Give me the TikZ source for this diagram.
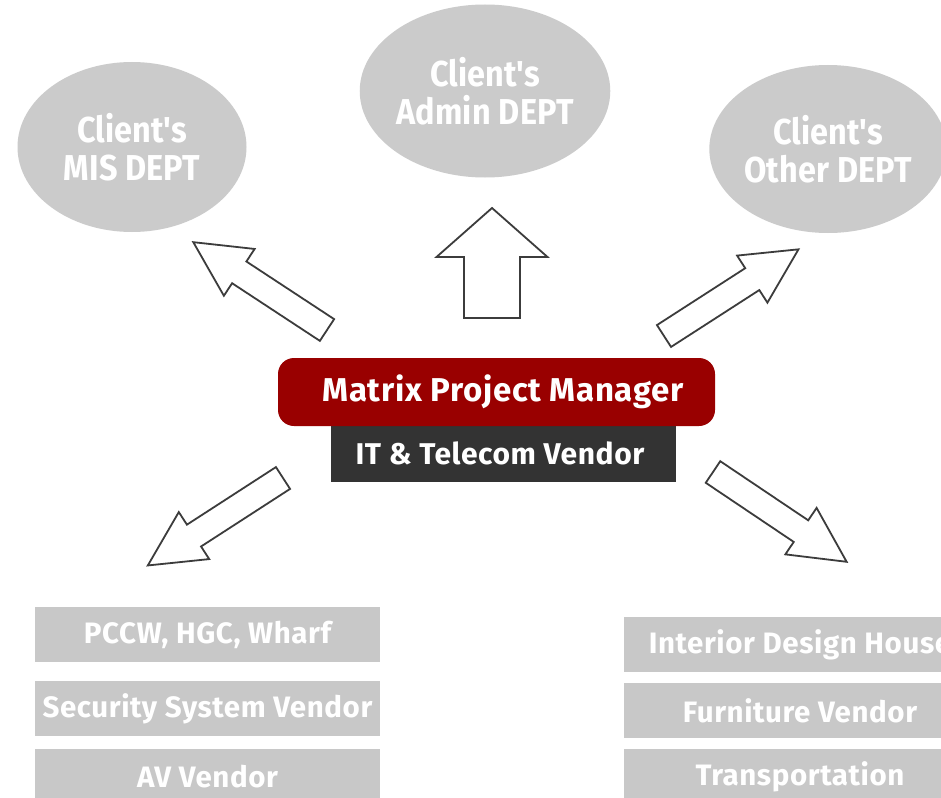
\documentclass[tikz,border=0pt]{standalone}
\usepackage{fontspec}
\newfontfamily\cf[FakeStretch=0.9,LetterSpace=0.5]{Fira Sans}
\newfontfamily\cfw[LetterSpace=2]{Fira Sans}
\usetikzlibrary{shapes.geometric}
\definecolor{ellgray}{HTML}{CBCBCB}
\definecolor{boxgray}{HTML}{C8C8C8}
\definecolor{mred}{HTML}{990000}
\definecolor{dgray}{HTML}{333333}
\definecolor{aline}{HTML}{3C3C3C}
\newcommand\blockarrow[7]{%
  \begin{scope}[shift={(#1,#2)},rotate=#3]
    \draw[barrow] (0,#5) -- (#4-#7,#5) -- (#4-#7,#6) -- (#4,0) -- (#4-#7,-#6) -- (#4-#7,-#5) -- (0,-#5) -- cycle;
  \end{scope}}
\tikzset{
  dept/.style={ellipse, fill=ellgray, text=white, inner sep=0pt, align=center,
    font=\cf\bfseries\fontsize{36}{38}\selectfont},
  vbox/.style={rectangle, fill=boxgray, text=white, inner sep=0pt,
    minimum height=55pt, font=\cfw\bfseries\fontsize{29.5}{32}\selectfont},
  barrow/.style={draw=aline, fill=white, line width=1.8pt, line join=miter},
  centretext/.style={text=white, inner sep=0pt}
}
\begin{document}
\begin{tikzpicture}[x=1pt,y=-1pt]
\useasboundingbox (0,0) rectangle (941,797);
\clip (0,0) rectangle (941,797);
\fill[white] (0,0) rectangle (941,797);

% departments
\node[dept, minimum width=229pt, minimum height=170pt] (mis) at (132,147) {Client's\\MIS DEPT};
\node[dept, minimum width=230pt, minimum height=173pt] (admin) at (485,91) {Client's\\Admin DEPT};
\node[dept, minimum width=226pt, minimum height=168pt] (other) at (828,149) {Client's\\Other DEPT};

% block arrows: tail x, tail y, angle, length, shaft half width, head half width, head length
\blockarrow{492}{318}{90}{110}{28}{55.5}{49}
\blockarrow{327}{330}{146.7}{160}{13}{28}{55}
\blockarrow{664}{336}{32.8}{160}{13}{28}{55}
\blockarrow{283}{478}{212.9}{161}{13}{28}{55}
\blockarrow{713}{472}{-33.9}{161}{13}{28}{55}

% centre
\node[fill=dgray, minimum width=345pt, minimum height=56pt, inner sep=0pt] (itbox) at (503.5,454) {};
\node[centretext, font=\cfw\bfseries\fontsize{30}{32}\selectfont] (it) at (500,453) {IT \& Telecom Vendor};
\node[fill=mred, rounded corners=16pt, minimum width=437pt, minimum height=68pt, inner sep=0pt] (pmbox) at (496.5,392) {};
\node[centretext, font=\cfw\bfseries\fontsize{33}{34}\selectfont] (pm) at (503,392) {Matrix Project Manager};

% vendors left
\node[vbox, minimum width=345pt] (pccw) at (207.5,634.5) {PCCW, HGC, Wharf};
\node[vbox, minimum width=345pt] (sec) at (207.5,708.5) {Security System Vendor};
\node[vbox, minimum width=345pt] (av) at (207.5,776.5) {AV Vendor};

% vendors right
\node[vbox, minimum width=352pt] (int) at (800,644.5) {Interior Design House};
\node[vbox, minimum width=352pt] (furn) at (800,710.5) {Furniture Vendor};
\node[vbox, minimum width=352pt] (trans) at (800,776.5) {Transportation};
\end{tikzpicture}
\end{document}
